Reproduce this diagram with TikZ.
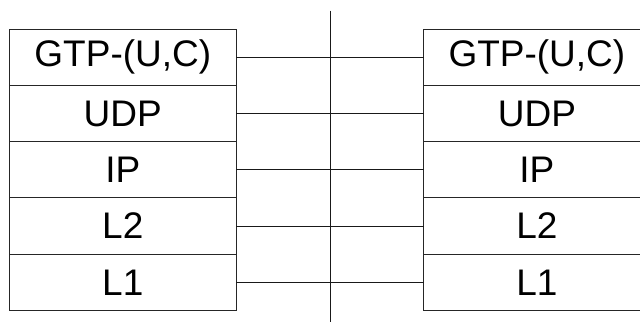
\documentclass[tikz,border=0pt]{standalone}
\usepackage{fontspec}
\setmainfont{Liberation Sans}
\begin{document}
\begin{tikzpicture}[x=1pt,y=-1pt,
  layer/.style={draw=black!85,line width=1pt,minimum width=226.5pt,minimum height=56.3pt,inner sep=0pt,font=\fontsize{37}{40}\selectfont,anchor=center,outer sep=0pt},
  link/.style={draw=black!90,line width=1pt}]
\useasboundingbox (0,0) rectangle (640,322);
\begin{scope}
\clip (0,0) rectangle (640,322);
\foreach \i/\t/\y in {1/GTP-(U{,}C)/57.15,2/UDP/113.45,3/IP/169.75,4/L2/226.05,5/L1/282.35}{
  \node[layer] (l\i) at (122.8,\y) {\t};
  \node[layer] (r\i) at (536.9,\y) {\t};
  \draw[link] (l\i.east) -- (r\i.west);
}
\coordinate (vt) at (330.7,10.5);
\coordinate (vb) at (330.7,322);
\draw[link] (vt) -- (vb);
\end{scope}
\end{tikzpicture}
\end{document}
